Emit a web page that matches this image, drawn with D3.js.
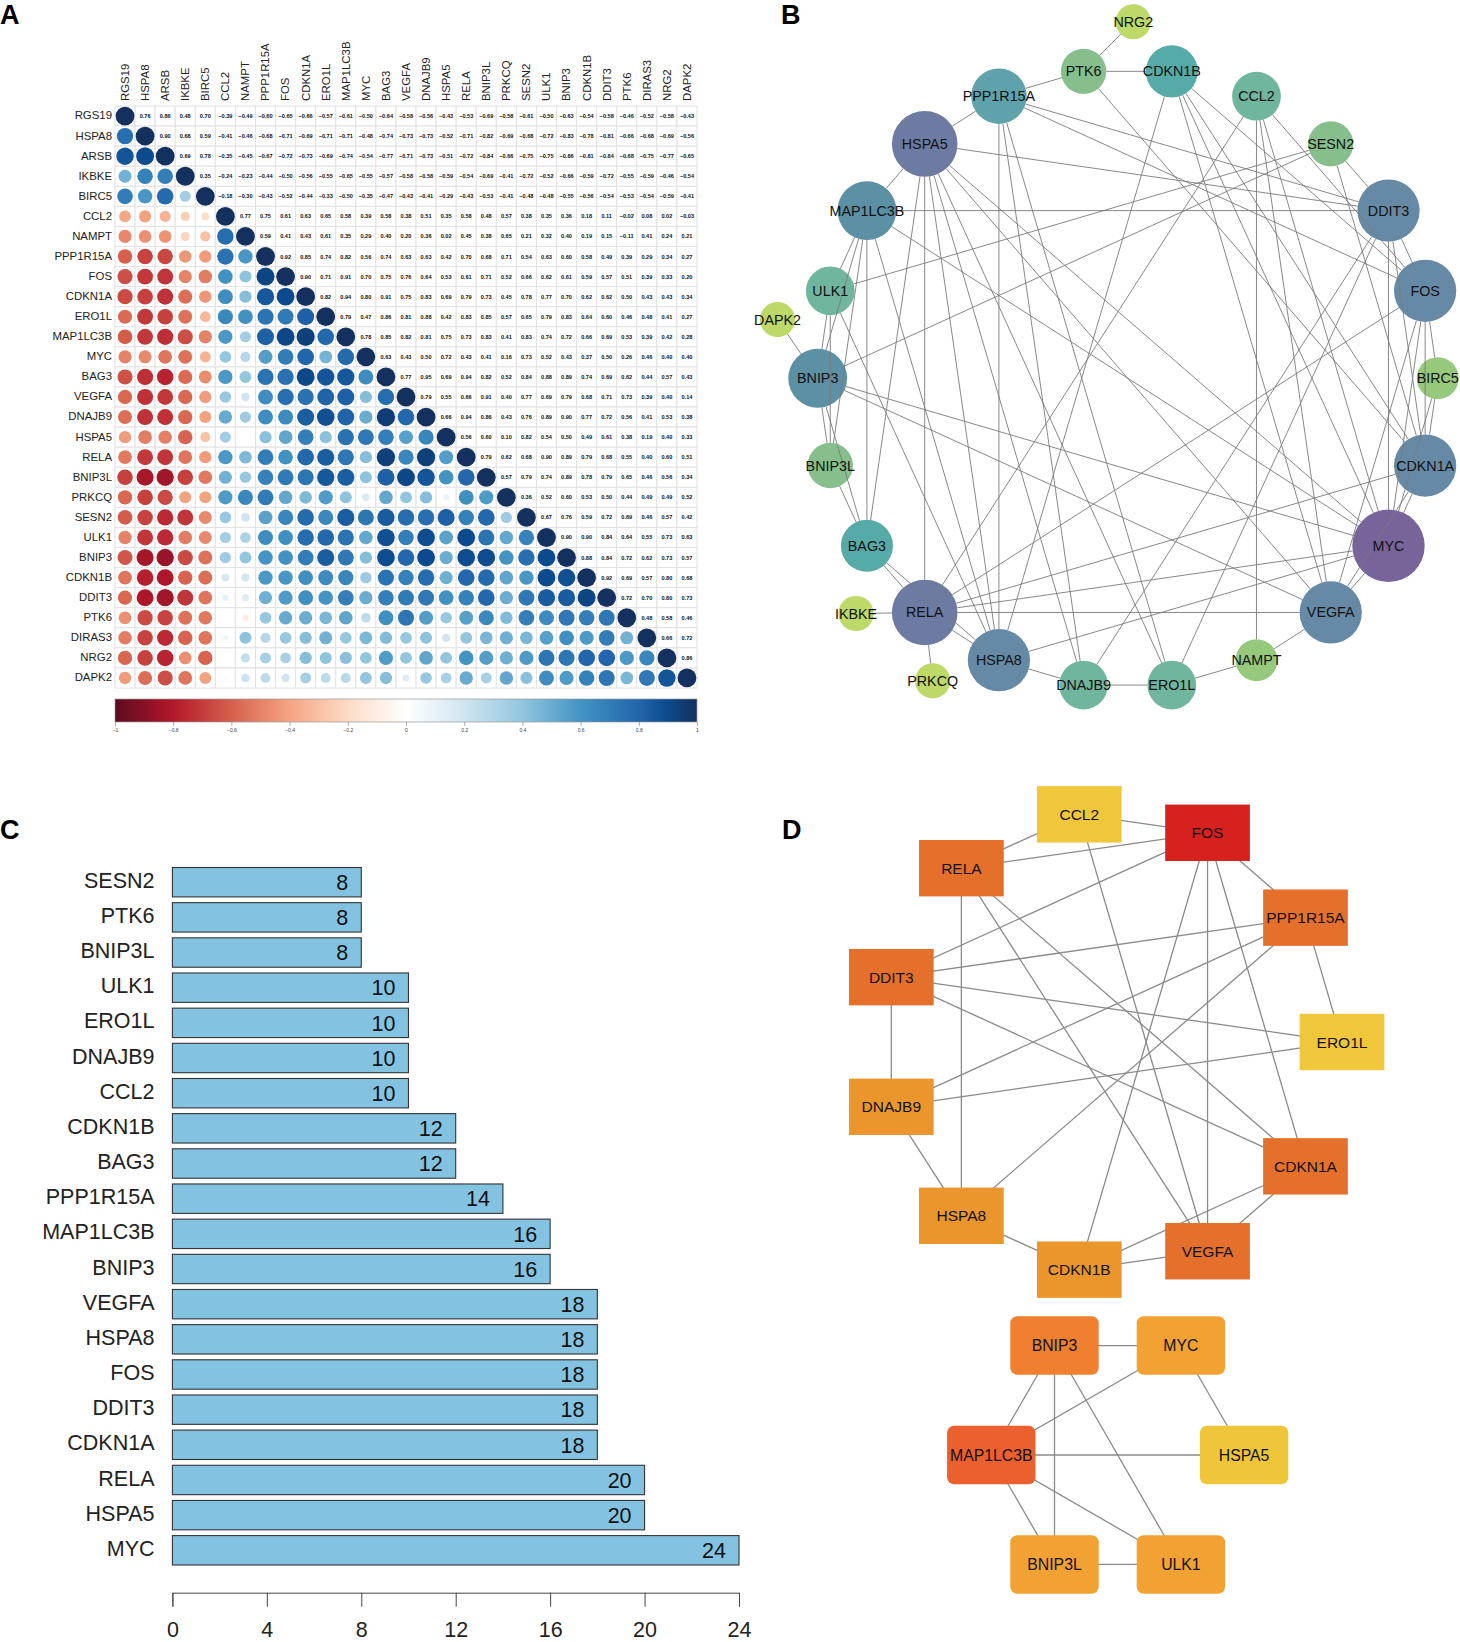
<!DOCTYPE html>
<html><head><meta charset="utf-8">
<script src="https://d3js.org/d3.v7.min.js"></script>
<style>html,body{margin:0;padding:0;background:#fff}svg{display:block}text{font-family:"Liberation Sans",Arial,sans-serif}</style>
</head><body><svg id="c" width="1460" height="1642"></svg>
<script>
// ---------- DATA ----------
const genes=["RGS19","HSPA8","ARSB","IKBKE","BIRC5","CCL2","NAMPT","PPP1R15A","FOS","CDKN1A","ERO1L","MAP1LC3B","MYC","BAG3","VEGFA","DNAJB9","HSPA5","RELA","BNIP3L","PRKCQ","SESN2","ULK1","BNIP3","CDKN1B","DDIT3","PTK6","DIRAS3","NRG2","DAPK2"];
// upper triangle of the correlation matrix, each row starts right after the diagonal
const upperRows=[
[.76,.86,.48,.70,-.39,-.49,-.60,-.65,-.66,-.57,-.61,-.50,-.64,-.58,-.56,-.43,-.53,-.69,-.58,-.61,-.50,-.63,-.54,-.58,-.46,-.52,-.58,-.43],
[.90,.68,.59,-.41,-.46,-.68,-.71,-.69,-.71,-.71,-.48,-.74,-.73,-.73,-.52,-.71,-.82,-.69,-.68,-.72,-.83,-.78,-.81,-.66,-.68,-.69,-.56],
[.69,.78,-.35,-.45,-.67,-.72,-.73,-.69,-.74,-.54,-.77,-.71,-.73,-.51,-.72,-.84,-.66,-.75,-.75,-.86,-.81,-.84,-.68,-.75,-.77,-.65],
[.35,-.24,-.23,-.44,-.50,-.56,-.55,-.65,-.55,-.57,-.58,-.58,-.59,-.54,-.69,-.41,-.72,-.52,-.66,-.59,-.72,-.55,-.59,-.46,-.54],
[-.18,-.30,-.43,-.52,-.44,-.33,-.50,-.35,-.47,-.43,-.41,-.29,-.43,-.53,-.41,-.48,-.48,-.55,-.56,-.54,-.53,-.54,-.59,-.41],
[.77,.75,.61,.63,.65,.58,.39,.58,.38,.51,.35,.58,.48,.57,.38,.35,.36,.18,.11,-.02,.08,.02,-.03],
[.59,.41,.43,.61,.35,.29,.40,.20,.36,.02,.45,.38,.65,.21,.32,.40,.19,.15,-.11,.41,.24,.21],
[.92,.85,.74,.82,.56,.74,.63,.63,.42,.70,.68,.71,.54,.63,.60,.58,.49,.39,.29,.34,.27],
[.90,.71,.91,.70,.75,.76,.64,.53,.61,.71,.52,.66,.62,.61,.59,.57,.51,.39,.33,.20],
[.82,.94,.80,.91,.75,.83,.69,.79,.73,.45,.78,.77,.70,.62,.62,.50,.43,.43,.34],
[.79,.47,.86,.81,.88,.42,.83,.85,.57,.65,.79,.83,.64,.60,.46,.48,.41,.27],
[.78,.85,.82,.81,.75,.73,.83,.41,.83,.74,.72,.66,.69,.53,.39,.42,.28],
[.63,.43,.50,.72,.43,.41,.16,.73,.52,.43,.37,.50,.26,.46,.40,.40],
[.77,.95,.69,.94,.82,.52,.84,.88,.89,.74,.69,.62,.44,.57,.43],
[.79,.55,.66,.91,.40,.77,.69,.79,.68,.71,.73,.39,.40,.14],
[.66,.94,.86,.43,.76,.89,.90,.77,.72,.56,.41,.53,.38],
[.56,.60,.10,.82,.54,.50,.49,.61,.38,.19,.40,.33],
[.79,.62,.68,.90,.89,.79,.68,.55,.40,.60,.51],
[.57,.79,.74,.89,.78,.79,.65,.46,.56,.34],
[.36,.52,.60,.53,.50,.44,.49,.49,.52],
[.67,.76,.59,.72,.69,.46,.57,.42],
[.90,.90,.84,.64,.55,.73,.63],
[.88,.84,.72,.62,.73,.57],
[.92,.69,.57,.80,.68],
[.72,.70,.80,.73],
[.48,.58,.46],
[.66,.72],
[.86]];
const corrStops=[-1,-.8,-.6,-.4,-.2,0,.2,.4,.6,.8,.9,1];
const corrColors=["#5c0c20","#B2182B","#D6604D","#F4A582","#FDDBC7","#FFFFFF","#D1E5F0","#92C5DE","#4393C3","#2166AC","#0b4a8c","#13305f"];
const colorbarTicks=[-1,-.8,-.6,-.4,-.2,0,.2,.4,.6,.8,1];

const hubGenes=["SESN2","PTK6","BNIP3L","ULK1","ERO1L","DNAJB9","CCL2","CDKN1B","BAG3","PPP1R15A","MAP1LC3B","BNIP3","VEGFA","HSPA8","FOS","DDIT3","CDKN1A","RELA","HSPA5","MYC"];
const hubCounts=[8,8,8,10,10,10,10,12,12,14,16,16,18,18,18,18,18,20,20,24];
const hubTicks=[0,4,8,12,16,20,24];

const ringB=["BIRC5","FOS","DDIT3","SESN2","CCL2","CDKN1B","PTK6","PPP1R15A","HSPA5","MAP1LC3B","ULK1","BNIP3","BNIP3L","BAG3","RELA","HSPA8","DNAJB9","ERO1L","NAMPT","VEGFA","MYC","CDKN1A"];
const leavesB=["NRG2","DAPK2","IKBKE","PRKCQ"];
const leavesBAngle=[89.1,170.5,220.9,237.2];
const leavesBRadius=[356.5,355,359.4,360];
const edgesB=[["PTK6","NRG2"],["PTK6","CDKN1B"],["PTK6","PPP1R15A"],["PTK6","CDKN1A"],["DAPK2","BNIP3"],["IKBKE","RELA"],["PRKCQ","RELA"],
["NAMPT","VEGFA"],["NAMPT","ERO1L"],["NAMPT","CCL2"],["BIRC5","FOS"],["BIRC5","CDKN1A"],["BIRC5","MYC"],
["HSPA5","PPP1R15A"],["HSPA5","MAP1LC3B"],["HSPA5","MYC"],["HSPA5","DDIT3"],["HSPA5","RELA"],["HSPA5","HSPA8"],["HSPA5","BAG3"],["HSPA5","DNAJB9"],["HSPA5","ERO1L"],["HSPA5","VEGFA"],
["CCL2","RELA"],["CCL2","FOS"],["CCL2","VEGFA"],["CCL2","MYC"],["RELA","FOS"],["RELA","HSPA8"],["RELA","VEGFA"],["RELA","CDKN1A"],["RELA","BAG3"],["RELA","MYC"],
["FOS","DDIT3"],["FOS","CDKN1B"],["FOS","VEGFA"],["FOS","CDKN1A"],["FOS","PPP1R15A"],["FOS","MYC"],
["PPP1R15A","DDIT3"],["PPP1R15A","DNAJB9"],["PPP1R15A","HSPA8"],["PPP1R15A","ERO1L"],
["DDIT3","ERO1L"],["DDIT3","CDKN1A"],["DDIT3","DNAJB9"],["DDIT3","MAP1LC3B"],["DDIT3","SESN2"],["DDIT3","MYC"],
["ERO1L","DNAJB9"],["DNAJB9","HSPA8"],["HSPA8","CDKN1B"],["HSPA8","MYC"],["HSPA8","BAG3"],["HSPA8","MAP1LC3B"],["HSPA8","ULK1"],
["CDKN1B","VEGFA"],["CDKN1B","CDKN1A"],["CDKN1B","MYC"],["VEGFA","CDKN1A"],["VEGFA","BNIP3"],["VEGFA","MYC"],["CDKN1A","MYC"],
["BNIP3","MYC"],["BNIP3","MAP1LC3B"],["BNIP3","BNIP3L"],["BNIP3","ULK1"],["BNIP3","SESN2"],["BNIP3","BAG3"],
["MAP1LC3B","MYC"],["MAP1LC3B","BNIP3L"],["MAP1LC3B","ULK1"],["MAP1LC3B","BAG3"],["BNIP3L","ULK1"],["BNIP3L","BAG3"],["ULK1","SESN2"],["SESN2","CDKN1A"]];
const degreeStops=[1,3,4,5,6,7,8,9,10,12];
const degreeColors=["#bdd967","#96c97c","#86bf8c","#70b59d","#56aaa8","#60a2ab","#5c90a5","#668aa6","#6d7ba3","#77649a"];

const ringD1=["ERO1L","PPP1R15A","FOS","CCL2","RELA","DDIT3","DNAJB9","HSPA8","CDKN1B","VEGFA","CDKN1A"];
const ringD1Colors=["#f0c63a","#e5702c","#d7211f","#f0c63a","#e5702c","#e5702c","#eb962d","#eb962d","#eb962d","#e5702c","#e5702c"];
const edgesD1=[["CCL2","RELA"],["CCL2","FOS"],["CCL2","VEGFA"],["RELA","FOS"],["RELA","HSPA8"],["RELA","VEGFA"],["RELA","CDKN1A"],["FOS","DDIT3"],["FOS","CDKN1B"],["FOS","VEGFA"],["FOS","CDKN1A"],["FOS","PPP1R15A"],["PPP1R15A","DDIT3"],["PPP1R15A","DNAJB9"],["PPP1R15A","HSPA8"],["PPP1R15A","ERO1L"],["DDIT3","ERO1L"],["DDIT3","CDKN1A"],["DDIT3","DNAJB9"],["ERO1L","DNAJB9"],["DNAJB9","HSPA8"],["HSPA8","CDKN1B"],["CDKN1B","VEGFA"],["CDKN1B","CDKN1A"],["VEGFA","CDKN1A"]];
const ringD2=["HSPA5","MYC","BNIP3","MAP1LC3B","BNIP3L","ULK1"];
const ringD2Colors=["#efc539","#f2a233","#f0802f","#ec5f2e","#f2a233","#f2a233"];
const edgesD2=[["BNIP3","MYC"],["BNIP3","MAP1LC3B"],["BNIP3","BNIP3L"],["BNIP3","ULK1"],["MAP1LC3B","MYC"],["MAP1LC3B","HSPA5"],["MAP1LC3B","BNIP3L"],["MAP1LC3B","ULK1"],["MYC","HSPA5"],["BNIP3L","ULK1"]];

// ---------- DRAW ----------
const svg=d3.select("#c");
const F='"Liberation Sans",Arial,sans-serif';
[["A",0,24],["B",781,24],["C",0,839],["D",782,839]].forEach(p=>svg.append("text").text(p[0]).attr("x",p[1]).attr("y",p[2]).attr("font-size",27).attr("font-weight","bold").attr("fill","#000"));

// Panel A
const x=d3.scaleBand().domain(genes).range([115,697]);
const y=d3.scaleBand().domain(genes).range([106,688]);
const col=d3.scaleLinear().domain(corrStops).range(corrColors);
const rad=d3.scaleSqrt().domain([0,1]).range([0,9.4]);
const A=svg.append("g");
const cells=[];
genes.forEach((a,i)=>{genes.forEach((b,j)=>{
  const v=i===j?1:(i<j?upperRows[i][j-i-1]:upperRows[j][i-j-1]);
  cells.push({row:a,col:b,v,i,j});
});});
A.append("g").selectAll("rect").data(cells).join("rect")
 .attr("x",d=>x(d.col)).attr("y",d=>y(d.row)).attr("width",x.bandwidth()).attr("height",y.bandwidth())
 .attr("fill","#fff").attr("stroke","#e2e2e2").attr("stroke-width",1);
A.append("g").selectAll("circle").data(cells.filter(d=>d.i>=d.j)).join("circle")
 .attr("cx",d=>x(d.col)+x.bandwidth()/2).attr("cy",d=>y(d.row)+y.bandwidth()/2)
 .attr("r",d=>rad(Math.abs(d.v))).attr("fill",d=>col(d.v));
A.append("g").selectAll("text").data(cells.filter(d=>d.i<d.j)).join("text")
 .attr("x",d=>x(d.col)+x.bandwidth()/2).attr("y",d=>y(d.row)+y.bandwidth()/2+2)
 .attr("text-anchor","middle").attr("font-size",5.6).attr("font-weight","bold").attr("fill","#111")
 .text(d=>d3.format(".2f")(d.v));
A.append("g").selectAll("text").data(genes).join("text")
 .attr("x",112).attr("y",d=>y(d)+y.bandwidth()/2+3.4).attr("text-anchor","end")
 .attr("font-size",11.4).attr("fill","#222").text(d=>d);
A.append("g").selectAll("text").data(genes).join("text")
 .attr("transform",d=>`translate(${x(d)+x.bandwidth()/2+3.9},101) rotate(-90)`)
 .attr("font-size",11.4).attr("fill","#222").text(d=>d);
// colour bar
const cb=d3.scaleLinear().domain([-1,1]).range([115,697]);
const grad=svg.append("defs").append("linearGradient").attr("id","cbg").attr("x1","0").attr("x2","1").attr("y1","0").attr("y2","0");
corrStops.forEach((s,i)=>grad.append("stop").attr("offset",(s+1)/2).attr("stop-color",corrColors[i]));
A.append("rect").attr("x",115).attr("y",699).attr("width",582).attr("height",23).attr("fill","url(#cbg)").attr("stroke","#999").attr("stroke-width",.7);
const cbAxis=A.append("g").attr("transform","translate(0,722)").call(d3.axisBottom(cb).tickValues(colorbarTicks).tickSize(4).tickPadding(2).tickFormat(d3.format("")));
cbAxis.select(".domain").remove();
cbAxis.selectAll("line").attr("stroke","#777").attr("stroke-width",.6);
cbAxis.selectAll("text").attr("font-size",5).attr("font-family",F).attr("fill","#444");

// Panel B
const ringAngle=(n)=>d3.scaleLinear().domain([0,n]).range([0,2*Math.PI]);
const cxB=d3.scaleLinear().domain([-1,1]).range([1127.7-310,1127.7+310]);
const cyB=d3.scaleLinear().domain([-1,1]).range([378.2+310,378.2-310]);
const angB=ringAngle(ringB.length);
const nodesB=new Map();
ringB.forEach((g,i)=>nodesB.set(g,{id:g,x:cxB(Math.cos(angB(i))),y:cyB(Math.sin(angB(i))),deg:0}));
leavesB.forEach((g,i)=>{const a=leavesBAngle[i]*Math.PI/180,r=leavesBRadius[i]/310;
 nodesB.set(g,{id:g,x:cxB(r*Math.cos(a)),y:cyB(r*Math.sin(a)),deg:0});});
edgesB.forEach(e=>{nodesB.get(e[0]).deg++;nodesB.get(e[1]).deg++;});
const rB=d3.scaleLinear().domain([1,12]).range([17.6,36.2]);
const cB=d3.scaleLinear().domain(degreeStops).range(degreeColors);
const B=svg.append("g");
const nb=[...nodesB.values()];
B.append("g").selectAll("circle").data(nb).join("circle").attr("cx",d=>d.x).attr("cy",d=>d.y).attr("r",d=>rB(d.deg)).attr("fill",d=>cB(d.deg));
const trim=(e)=>{const s=nodesB.get(e[0]),t=nodesB.get(e[1]);const dx=t.x-s.x,dy=t.y-s.y,L=Math.hypot(dx,dy);
 const a=rB(s.deg)/L,b=rB(t.deg)/L;return {x1:s.x+dx*a,y1:s.y+dy*a,x2:t.x-dx*b,y2:t.y-dy*b};};
B.append("g").selectAll("line").data(edgesB.map(trim)).join("line").attr("x1",d=>d.x1).attr("y1",d=>d.y1).attr("x2",d=>d.x2).attr("y2",d=>d.y2)
 .attr("stroke","#7a7a7a").attr("stroke-width",.9);
B.append("g").selectAll("text").data(nb).join("text").attr("x",d=>d.x).attr("y",d=>d.y+5).attr("text-anchor","middle")
 .attr("font-size",14.3).attr("fill","#111").text(d=>d.id);

// Panel C
const bx=d3.scaleLinear().domain([0,24]).range([172.4,739]);
const by=d3.scaleBand().domain(hubGenes).range([867.5,1565]).paddingInner(.164);
const C=svg.append("g");
C.append("g").selectAll("rect").data(hubGenes).join("rect").attr("x",bx(0)).attr("y",d=>by(d)).attr("height",by.bandwidth())
 .attr("width",(d,i)=>bx(hubCounts[i])-bx(0)).attr("fill","#83c3e1").attr("stroke","#333").attr("stroke-width",1.1);
C.append("g").selectAll("text").data(hubGenes).join("text").attr("x",154.5).attr("y",d=>by(d)+by.bandwidth()/2+5.6).attr("text-anchor","end")
 .attr("font-size",21.5).attr("fill","#222").text(d=>d);
C.append("g").selectAll("text").data(hubGenes).join("text").attr("x",(d,i)=>bx(hubCounts[i])-13).attr("y",d=>by(d)+by.bandwidth()/2+7.7).attr("text-anchor","end")
 .attr("font-size",21.5).attr("fill","#111").text((d,i)=>hubCounts[i]);
const cAxis=C.append("g").attr("transform","translate(0,1592.7)").call(d3.axisBottom(bx).tickValues(hubTicks).tickSize(14).tickPadding(15.2).tickFormat(d3.format("d")));
cAxis.selectAll("line,path").attr("stroke","#444").attr("stroke-width",1);
cAxis.selectAll("text").attr("font-size",21.5).attr("font-family",F).attr("fill","#222");

// Panel D
function ringNet(names,colors,edges,cx,cy,r,w,h,rx,fs,sw){
 const a=ringAngle(names.length);
 const sx=d3.scaleLinear().domain([-1,1]).range([cx-r,cx+r]);
 const sy=d3.scaleLinear().domain([-1,1]).range([cy+r,cy-r]);
 const ns=new Map(names.map((g,i)=>[g,{id:g,x:sx(Math.cos(a(i))),y:sy(Math.sin(a(i))),c:colors[i]}]));
 const g=svg.append("g");
 g.append("g").selectAll("line").data(edges).join("line")
  .attr("x1",d=>ns.get(d[0]).x).attr("y1",d=>ns.get(d[0]).y).attr("x2",d=>ns.get(d[1]).x).attr("y2",d=>ns.get(d[1]).y)
  .attr("stroke","#8a8a8a").attr("stroke-width",sw);
 const arr=[...ns.values()];
 g.append("g").selectAll("rect").data(arr).join("rect").attr("x",d=>d.x-w/2).attr("y",d=>d.y-h/2).attr("width",w).attr("height",h).attr("rx",rx).attr("fill",d=>d.c);
 g.append("g").selectAll("text").data(arr).join("text").attr("x",d=>d.x).attr("y",d=>d.y+fs*.36).attr("text-anchor","middle").attr("font-size",fs).attr("fill","#111").text(d=>d.id);
}
ringNet(ringD1,ringD1Colors,edgesD1,1112,1042,230,84.7,56.4,0,15.5,1.3);
ringNet(ringD2,ringD2Colors,edgesD2,1117.7,1455,126.4,88.4,58.6,7,15.8,1.3);
</script></body></html>
